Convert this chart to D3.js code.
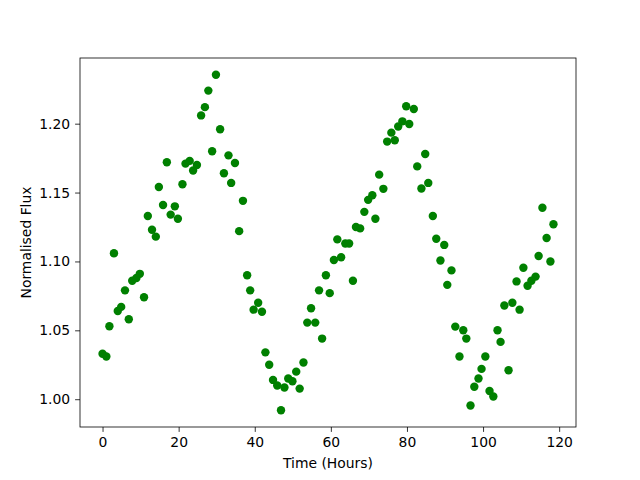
<!DOCTYPE html>
<html><head><meta charset="utf-8">
<script src="https://cdn.jsdelivr.net/npm/d3@7"></script>
<style>body{margin:0;background:#fff}svg{display:block}text{font-family:"DejaVu Sans",sans-serif}</style>
</head><body>
<script>
const timeHours = [0,1,1.8,3,4,4.9,5.9,6.9,7.8,8.9,9.8,10.9,11.9,13,14,14.8,15.9,16.9,17.9,19,19.8,21,21.8,22.9,23.8,24.8,25.9,26.9,27.8,28.8,29.8,30.9,31.9,33.1,33.8,34.8,35.9,36.9,38,38.8,39.7,40.9,41.9,42.8,43.8,44.8,45.9,46.9,47.8,48.8,49.9,50.9,51.8,52.8,53.8,54.8,55.9,56.9,57.7,58.7,59.7,60.8,61.7,62.7,63.8,64.8,65.8,66.6,67.7,68.8,69.8,70.9,71.7,72.7,73.8,74.8,75.9,76.8,77.7,78.8,79.8,80.6,81.8,82.7,83.8,84.8,85.6,86.8,87.7,88.8,89.8,90.6,91.7,92.7,93.8,94.8,95.6,96.7,97.7,98.8,99.6,100.6,101.7,102.7,103.8,104.6,105.6,106.7,107.7,108.8,109.6,110.6,111.7,112.7,113.8,114.6,115.6,116.7,117.7,118.5];
const flux = [1.033,1.031,1.053,1.106,1.064,1.067,1.079,1.058,1.086,1.088,1.091,1.074,1.133,1.123,1.118,1.154,1.141,1.172,1.134,1.140,1.131,1.156,1.171,1.173,1.166,1.170,1.206,1.212,1.224,1.180,1.2355,1.196,1.164,1.177,1.157,1.1715,1.122,1.144,1.090,1.079,1.065,1.070,1.0635,1.034,1.025,1.014,1.010,0.992,1.0085,1.015,1.013,1.020,1.0077,1.0266,1.0556,1.066,1.0556,1.079,1.044,1.090,1.077,1.101,1.116,1.103,1.113,1.113,1.086,1.125,1.124,1.136,1.1447,1.148,1.131,1.163,1.1527,1.187,1.1935,1.188,1.198,1.2017,1.2126,1.1998,1.2107,1.169,1.153,1.178,1.157,1.133,1.1165,1.1007,1.112,1.083,1.0935,1.0527,1.031,1.050,1.044,0.9954,1.009,1.015,1.022,1.031,1.006,1.002,1.050,1.0416,1.068,1.021,1.070,1.0855,1.065,1.0954,1.0824,1.086,1.089,1.104,1.139,1.117,1.100,1.127];
const xTicks = [0,20,40,60,80,100,120];
const yTicks = [1.00,1.05,1.10,1.15,1.20];

const W=640,H=480, L=80,R=576,T=58,B=427;
const pad = (a,b)=>{const m=(b-a)*0.05;return [a-m,b+m];};
const x = d3.scaleLinear().domain(pad(d3.min(timeHours),d3.max(timeHours))).range([L,R]);
const y = d3.scaleLinear().domain(pad(d3.min(flux),d3.max(flux))).range([B,T]);

const svg = d3.select("body").append("svg").attr("width",W).attr("height",H);

svg.append("g").selectAll("circle").data(flux).join("circle")
  .attr("cx",(d,i)=>x(timeHours[i])).attr("cy",d=>y(d)).attr("r",4.2)
  .attr("fill","#008000");

const xa = svg.append("g").attr("transform",`translate(0,${B})`)
  .call(d3.axisBottom(x).tickValues(xTicks).tickFormat(d3.format("d")).tickSize(4.9).tickPadding(4.9));
const ya = svg.append("g").attr("transform",`translate(${L},0)`)
  .call(d3.axisLeft(y).tickValues(yTicks).tickFormat(d3.format(".2f")).tickSize(4.9).tickPadding(4.9));
[xa,ya].forEach(a=>{a.select(".domain").remove();a.selectAll("text").attr("font-size","13.9px").attr("fill","#000").attr("font-family","DejaVu Sans");a.selectAll("line").attr("stroke","#000").attr("stroke-width",0.8);});

svg.append("rect").attr("x",L).attr("y",T).attr("width",R-L).attr("height",B-T)
  .attr("fill","none").attr("stroke","#000").attr("stroke-width",0.8);

svg.append("text").attr("x",(L+R)/2).attr("y",468).attr("text-anchor","middle")
  .attr("font-size","13.9px").text("Time (Hours)");
svg.append("text").attr("transform",`translate(31,${(T+B)/2}) rotate(-90)`).attr("text-anchor","middle")
  .attr("font-size","13.9px").text("Normalised Flux");
</script>
</body></html>
